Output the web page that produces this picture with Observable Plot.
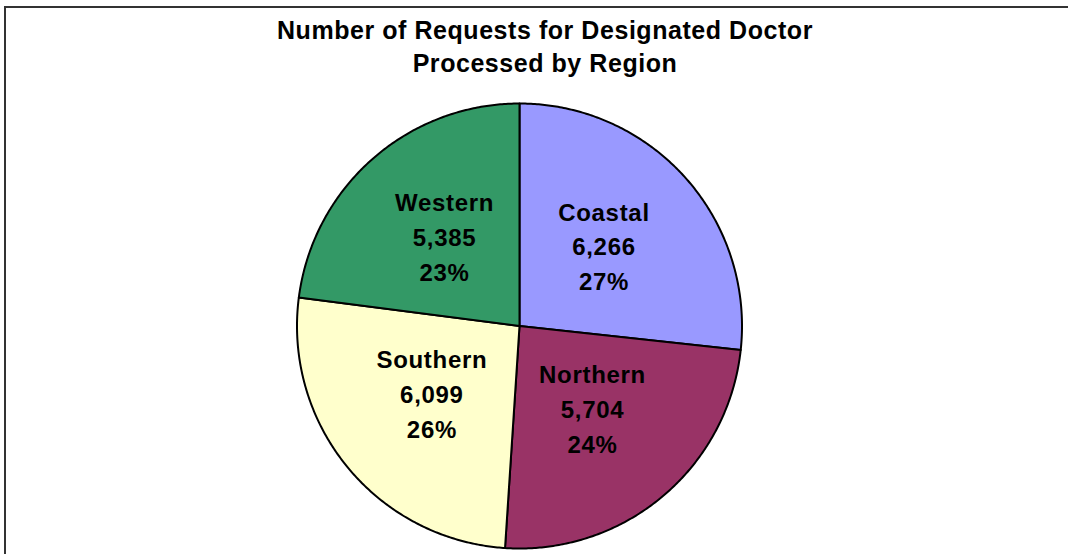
<!DOCTYPE html>
<html>
<head>
<meta charset="utf-8">
<script src="https://cdn.jsdelivr.net/npm/d3@7"></script>
<script src="https://cdn.jsdelivr.net/npm/@observablehq/plot@0.6"></script>
<style>
  html, body { margin: 0; padding: 0; background: #fff; overflow: hidden; }
  #wrap { position: relative; width: 1068px; height: 554px; }
  #frame { position: absolute; left: 4px; top: 6px; width: 1200px; height: 700px;
           border-left: 2px solid #333; border-top: 2px solid #333; }
  #title { position: absolute; left: 0; width: 1090px; top: 14px; text-align: center;
           font-family: "Liberation Sans", Arial, sans-serif; font-weight: bold;
           font-size: 25px; line-height: 33px; color: #000; letter-spacing: 0.55px; }
  #chart { position: absolute; left: 0; top: 0; }
  #chart svg text { letter-spacing: 0.7px; }
</style>
</head>
<body>
<div id="wrap">
  <div id="frame"></div>
  <div id="chart"></div>
  <div id="title">Number of Requests for Designated Doctor<br>Processed by Region</div>
</div>
<script>
const regions = ["Coastal", "Northern", "Southern", "Western"];
const requests = [6266, 5704, 6099, 5385];
const colors = ["#9999FF", "#993366", "#FFFFCC", "#339966"];

const data = regions.map((r, i) => ({region: r, value: requests[i]}));
const total = d3.sum(requests);
const arcs = d3.pie().sort(null).value(d => d.value)(data);

// polygon outline of each slice (geometry derived from the pie layout)
const outline = [];
for (const a of arcs) {
  const r = a.data.region;
  outline.push({region: r, x: 0, y: 0});
  const n = Math.max(2, Math.ceil((a.endAngle - a.startAngle) / (Math.PI / 360)));
  for (let k = 0; k <= n; k++) {
    const t = a.startAngle + (a.endAngle - a.startAngle) * k / n;
    outline.push({region: r, x: Math.sin(t), y: Math.cos(t)});
  }
}

const labelR = 0.51;
const labels = arcs.map(a => {
  const m = (a.startAngle + a.endAngle) / 2;
  return {
    region: a.data.region,
    x: labelR * Math.sin(m),
    y: labelR * Math.cos(m),
    text: `${a.data.region}\n${d3.format(",")(a.data.value)}\n${Math.round(a.data.value / total * 100)}%`
  };
});

const chart = Plot.plot({
  width: 1068,
  height: 554,
  marginLeft: 296.5,
  marginRight: 326.5,
  marginTop: 103,
  marginBottom: 6,
  x: {domain: [-1, 1], axis: null},
  y: {domain: [-1, 1], axis: null},
  color: {domain: regions, range: colors},
  style: {background: "transparent", fontFamily: "'Liberation Sans', Arial, sans-serif"},
  marks: [
    Plot.line(outline, {
      x: "x", y: "y", z: "region", fill: "region",
      stroke: "#000", strokeWidth: 2, strokeLinejoin: "round",
      curve: "linear-closed"
    }),
    Plot.text(labels, {
      x: "x", y: "y", text: "text", dy: -6,
      fontSize: 24, fontWeight: "bold", fill: "#000",
      lineHeight: 1.45, textAnchor: "middle"
    })
  ]
});
document.getElementById("chart").appendChild(chart);
</script>
</body>
</html>
